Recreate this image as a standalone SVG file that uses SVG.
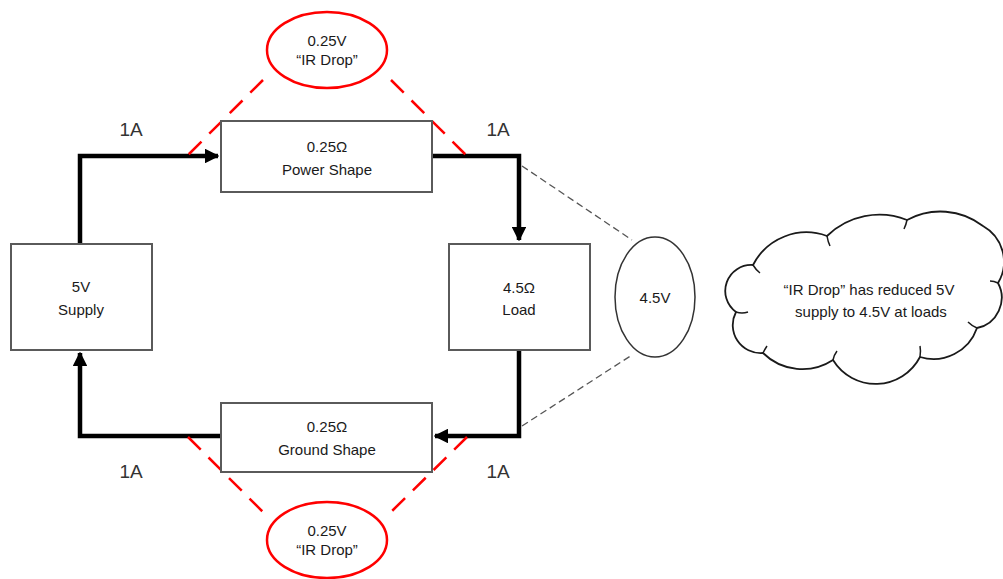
<svg xmlns="http://www.w3.org/2000/svg" width="1003" height="579" viewBox="0 0 1003 579">
<style>
  text { font-family: "Liberation Sans", Arial, sans-serif; font-size: 15px; fill: #1a1a1a; text-anchor: middle; }
  .amp { font-size: 19px; fill: #333; }
  .box { fill: #ffffff; stroke: #5a5a5a; stroke-width: 2; }
  .wire { fill: none; stroke: #000; stroke-width: 4.5; stroke-linejoin: miter; }
  .red { fill: none; stroke: #ff0000; stroke-width: 2.5; stroke-dasharray: 18 11; }
  .redell { fill: #fff; stroke: #ff0000; stroke-width: 2.5; }
  .gray { fill: none; stroke: #555; stroke-width: 1.3; stroke-dasharray: 7 4; }
  .oval { fill: #fff; stroke: #333; stroke-width: 1.5; }
  .cloud { fill: #fff; stroke: #1a1a1a; stroke-width: 1.8; stroke-linejoin: round; }
  .curl { fill: none; stroke: #1a1a1a; stroke-width: 1.5; }
</style>
<defs>
  <marker id="arr" viewBox="0 0 10 10" refX="9" refY="5" markerWidth="3.3" markerHeight="3.3" orient="auto" markerUnits="strokeWidth">
    <path d="M0,0 L10,5 L0,10 Z" fill="#000"/>
  </marker>
</defs>

<g id="connectors">
  <polyline class="wire" points="80,244 80,156 218,156" marker-end="url(#arr)"/>
  <polyline class="wire" points="432,156 519,156 519,240" marker-end="url(#arr)"/>
  <polyline class="wire" points="519,350 519,436 435,436" marker-end="url(#arr)"/>
  <polyline class="wire" points="221,436 80,436 80,353" marker-end="url(#arr)"/>
  <line class="red" x1="263" y1="80" x2="187" y2="156"/>
  <line class="red" x1="391" y1="80" x2="467" y2="156"/>
  <line class="red" x1="188" y1="437" x2="263" y2="512"/>
  <line class="red" x1="467" y1="437" x2="391" y2="512"/>
  <line class="gray" x1="522" y1="166" x2="632" y2="240"/>
  <line class="gray" x1="522" y1="426" x2="632" y2="355"/>
</g>

<g id="supply">
  <rect class="box" x="11" y="244" width="141" height="106"/>
  <text x="81" y="292">5V</text>
  <text x="81" y="315">Supply</text>
</g>

<g id="power-shape">
  <rect class="box" x="221" y="121" width="211" height="71"/>
  <text x="327" y="152">0.25Ω</text>
  <text x="327" y="175">Power Shape</text>
</g>

<g id="ground-shape">
  <rect class="box" x="221" y="403" width="211" height="69"/>
  <text x="327" y="432">0.25Ω</text>
  <text x="327" y="455">Ground Shape</text>
</g>

<g id="load">
  <rect class="box" x="449" y="244" width="141" height="106"/>
  <text x="519" y="293">4.5Ω</text>
  <text x="519" y="315">Load</text>
</g>

<g id="ir-drop-top">
  <ellipse class="redell" cx="327" cy="50" rx="60" ry="38"/>
  <text x="327" y="46">0.25V</text>
  <text x="327" y="65">“IR Drop”</text>
</g>

<g id="ir-drop-bottom">
  <ellipse class="redell" cx="327" cy="540" rx="60" ry="38"/>
  <text x="327" y="536">0.25V</text>
  <text x="327" y="555">“IR Drop”</text>
</g>

<g id="load-voltage">
  <ellipse class="oval" cx="655" cy="297" rx="40" ry="60"/>
  <text x="655" y="303">4.5V</text>
</g>

<g id="labels">
  <text class="amp" x="131" y="136">1A</text>
  <text class="amp" x="498" y="136">1A</text>
  <text class="amp" x="131" y="478">1A</text>
  <text class="amp" x="498" y="478">1A</text>
</g>

<g id="cloud-note">
  <path class="cloud" d="M736,312 A26,26 0 0 1 753,265 A60,60 0 0 1 827,236 A75,75 0 0 1 907,220 A70,70 0 0 1 983,226 A41,41 0 0 1 998,283 A31,31 0 0 1 977,328 A46,46 0 0 1 920,357 A50,50 0 0 1 833,360 A56,56 0 0 1 763,353 A28,28 0 0 1 736,312 Z"/>
  <path class="curl" d="M736,312 Q742,314 748,312"/>
  <path class="curl" d="M753,265 Q756,270 760,273"/>
  <path class="curl" d="M827,236 Q828,242 830,246"/>
  <path class="curl" d="M907,220 Q906,225 904,229"/>
  <path class="curl" d="M998,283 Q994,281 990,281"/>
  <path class="curl" d="M977,328 Q972,326 968,322"/>
  <path class="curl" d="M920,357 Q921,351 920,346"/>
  <path class="curl" d="M833,360 Q834,355 837,351"/>
  <path class="curl" d="M763,353 Q765,349 767,346"/>
  <text x="869" y="295">“IR Drop” has reduced 5V</text>
  <text x="871" y="317">supply to 4.5V at loads</text>
</g>
</svg>
